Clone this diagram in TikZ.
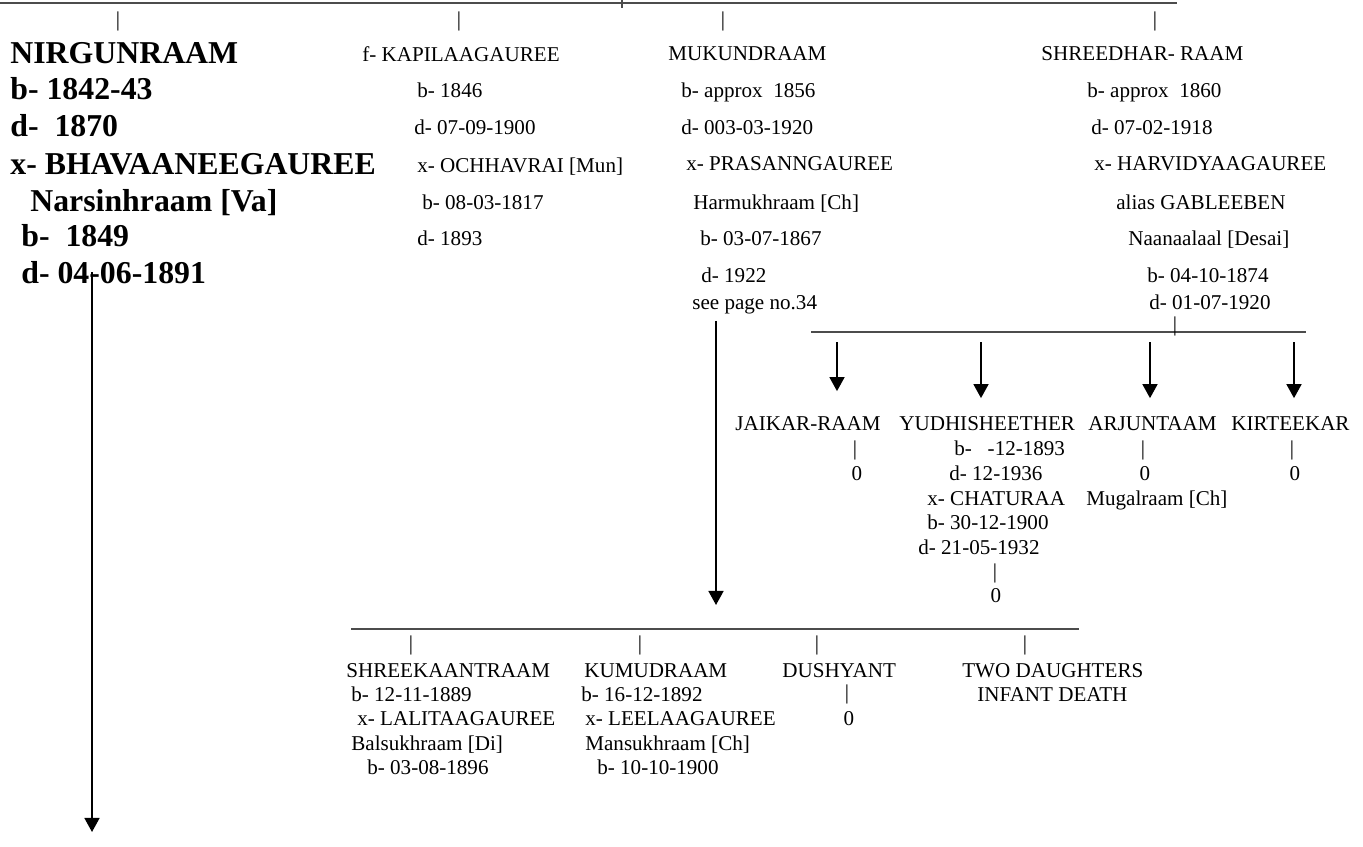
\documentclass[tikz,border=0pt]{standalone}
\usepackage{fontspec}
\setmainfont{Liberation Serif}
\usetikzlibrary{arrows.meta,positioning}
\newcommand{\kinreg}{\fontsize{12}{14}\selectfont}
\newcommand{\kinbld}{\fontsize{18.1}{20}\selectfont\bfseries}
\tikzset{
  txt/.style={anchor=base west, inner sep=0pt, font=\kinreg},
  big/.style={anchor=base west, inner sep=0pt, font=\kinbld},
  pipe/.style={anchor=base, inner sep=0pt, font=\kinreg},
  sibline/.style={line width=0.8pt, black!70},
  kinarrow/.style={line width=1.1pt, -{Triangle[length=8pt,width=8.5pt]}}
}
\begin{document}
\begin{tikzpicture}[x=0.02cm, y=-0.02cm]
      \useasboundingbox (0,0) rectangle (1363,846);
      % top sibling line
      \coordinate (tl) at (0,3);
      \coordinate (tr) at (1177,3);
      \draw[sibline] (tl) -- (tr);
      \draw[sibline] (622,0) -- (622,8);
      \node[pipe] (t1) at (118,26) {|};
      \node[pipe] (t2) at (459,26) {|};
      \node[pipe] (t3) at (723,26) {|};
      \node[pipe] (t4) at (1155,26) {|};

      % NIRGUNRAAM
      \node[big] (n1) at (10,63) {NIRGUNRAAM};
      \node[big] (n2) at (10,99) {b- 1842-43};
      \node[big] (n3) at (10,136) {d-~~1870};
      \node[big] (n4) at (10,174) {x- BHAVAANEEGAUREE};
      \node[big] (n5) at (30,211) {Narsinhraam [Va]};
      \node[big] (n6) at (21,246) {b-~~1849};
      \node[big] (n7) at (21,283) {d- 04-06-1891};

      % KAPILAAGAUREE
      \node[txt] (k1) at (362,61) {f- KAPILAAGAUREE};
      \node[txt] (k2) at (417,97) {b- 1846};
      \node[txt] (k3) at (414,134) {d- 07-09-1900};
      \node[txt] (k4) at (417,172) {x- OCHHAVRAI [Mun]};
      \node[txt] (k5) at (422,209) {b- 08-03-1817};
      \node[txt] (k6) at (417,245) {d- 1893};

      % MUKUNDRAAM
      \node[txt] (m1) at (668,60) {MUKUNDRAAM};
      \node[txt] (m2) at (681,97) {b- approx~~1856};
      \node[txt] (m3) at (681,134) {d- 003-03-1920};
      \node[txt] (m4) at (686,170) {x- PRASANNGAUREE};
      \node[txt] (m5) at (693,209) {Harmukhraam [Ch]};
      \node[txt] (m6) at (700,245) {b- 03-07-1867};
      \node[txt] (m7) at (701,282) {d- 1922};
      \node[txt] (m8) at (692,309) {see page no.34};

      % SHREEDHAR- RAAM
      \node[txt] (s1) at (1041,60) {SHREEDHAR- RAAM};
      \node[txt] (s2) at (1087,97) {b- approx~~1860};
      \node[txt] (s3) at (1091,134) {d- 07-02-1918};
      \node[txt] (s4) at (1094,170) {x- HARVIDYAAGAUREE};
      \node[txt] (s5) at (1116,209) {alias GABLEEBEN};
      \node[txt] (s6) at (1128,245) {Naanaalaal [Desai]};
      \node[txt] (s7) at (1147,282) {b- 04-10-1874};
      \node[txt] (s8) at (1149,309) {d- 01-07-1920};

      % children of SHREEDHAR- RAAM
      \coordinate (l2a) at (811,332);
      \coordinate (l2b) at (1306,332);
      \draw[sibline] (l2a) -- (l2b);
      \node[pipe] (l2p) at (1175,331) {|};
      \node[txt] (c1) at (735,430) {JAIKAR-RAAM};
      \node[txt] (c2) at (899,430) {YUDHISHEETHER};
      \node[txt] (c3) at (1088,430) {ARJUNTAAM};
      \node[txt] (c4) at (1231,430) {KIRTEEKAR};
      \coordinate (a1) at (837,342);
      \coordinate (a2) at (981,342);
      \coordinate (a3) at (1150,342);
      \coordinate (a4) at (1294,342);
      \foreach \i/\s in {1/14pt,2/10pt,3/10pt,4/10pt}
        \draw[kinarrow, shorten >=\s] (a\i) -- (a\i |- c\i.north);

      \node[pipe] (c1p) at (855,455) {|};
      \node[pipe] (c1z) at (857,480) {0};
      \node[pipe] (c3p) at (1143,455) {|};
      \node[pipe] (c3z) at (1145,480) {0};
      \node[pipe] (c4p) at (1292,455) {|};
      \node[pipe] (c4z) at (1295,480) {0};
      \node[txt] (c3w) at (1086,505) {Mugalraam [Ch]};

      \node[txt] (y1) at (954,455) {b-~~~-12-1893};
      \node[txt] (y2) at (949,480) {d- 12-1936};
      \node[txt] (y3) at (927,505) {x- CHATURAA};
      \node[txt] (y4) at (927,529) {b- 30-12-1900};
      \node[txt] (y5) at (918,554) {d- 21-05-1932};
      \node[pipe] (y6) at (995,578) {|};
      \node[pipe] (y7) at (996,602) {0};

      % children of MUKUNDRAAM
      \coordinate (mb) at (716,605);
      \draw[kinarrow, shorten <=4pt] (m8.south -| mb) -- (mb);
      \coordinate (l3a) at (351,629);
      \coordinate (l3b) at (1079,629);
      \draw[sibline] (l3a) -- (l3b);
      \node[pipe] (g1p) at (411,650) {|};
      \node[pipe] (g2p) at (640,650) {|};
      \node[pipe] (g3p) at (817,650) {|};
      \node[pipe] (g4p) at (1025,650) {|};

      \node[txt] (g1) at (346,677) {SHREEKAANTRAAM};
      \node[txt] (g1b) at (351,701) {b- 12-11-1889};
      \node[txt] (g1x) at (357,725) {x- LALITAAGAUREE};
      \node[txt] (g1w) at (351,750) {Balsukhraam [Di]};
      \node[txt] (g1d) at (367,774) {b- 03-08-1896};

      \node[txt] (g2) at (584,677) {KUMUDRAAM};
      \node[txt] (g2b) at (581,701) {b- 16-12-1892};
      \node[txt] (g2x) at (585,725) {x- LEELAAGAUREE};
      \node[txt] (g2w) at (585,750) {Mansukhraam [Ch]};
      \node[txt] (g2d) at (597,774) {b- 10-10-1900};

      \node[txt] (g3) at (782,677) {DUSHYANT};
      \node[pipe] (g3a) at (847,699) {|};
      \node[pipe] (g3z) at (849,725) {0};

      \node[txt] (g4) at (962,677) {TWO DAUGHTERS};
      \node[txt] (g4b) at (977,701) {INFANT DEATH};

      % line of NIRGUNRAAM
      \coordinate (lb) at (92,832);
      \draw[kinarrow] (n7.center -| lb) -- (lb);
    \end{tikzpicture}
\end{document}
